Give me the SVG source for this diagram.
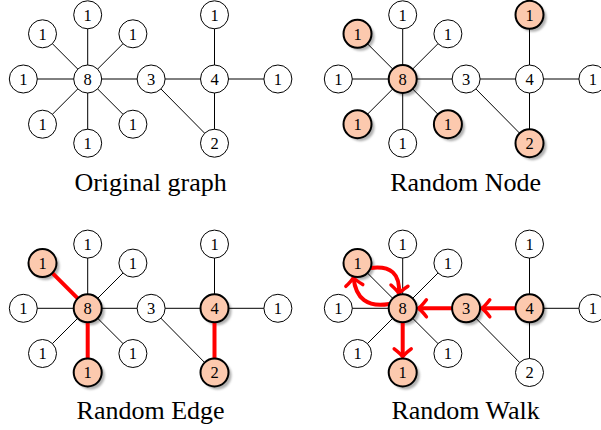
<svg xmlns="http://www.w3.org/2000/svg" width="601" height="430" viewBox="0 0 601 430">
<style>
.e{stroke:#000;stroke-width:1;fill:none}
.re{stroke:#f00;stroke-width:4;fill:none}
.ra{stroke:#f00;stroke-width:4;fill:none;marker-end:url(#ah)}
.n circle{fill:#fff;stroke:#000;stroke-width:1}
.h circle{fill:#fcc9ae;stroke:#000;stroke-width:2}
.sh{fill:#b0b0b0;filter:url(#blur)}
text{font-family:"Liberation Serif","Times New Roman",serif;fill:#000;text-anchor:middle}
.n text,.h text{font-size:16.5px}
.lab{font-size:26px}
</style>
<defs>
<filter id="blur" x="-50%" y="-50%" width="200%" height="200%"><feGaussianBlur stdDeviation="1.3"/></filter>
<marker id="ah" viewBox="-12 -12 24 24" markerWidth="24" markerHeight="24" markerUnits="userSpaceOnUse" orient="auto" refX="0" refY="0" overflow="visible">
<path d="M-8,-8.5 Q-3,-2 0,0 Q-3,2 -8,8.5" fill="none" stroke="#f00" stroke-width="3.5" stroke-linecap="round" stroke-linejoin="round"/>
</marker>
</defs>

<!-- Panel 1: Original graph -->
<g id="panel1">
<g id="p1-connectors">
<line class="e" x1="87.7" y1="79" x2="87.7" y2="14.8"/>
<line class="e" x1="87.7" y1="79" x2="42.5" y2="33.8"/>
<line class="e" x1="87.7" y1="79" x2="132.9" y2="33.8"/>
<line class="e" x1="87.7" y1="79" x2="23.3" y2="79"/>
<line class="e" x1="87.7" y1="79" x2="42.5" y2="124.2"/>
<line class="e" x1="87.7" y1="79" x2="132.9" y2="124.2"/>
<line class="e" x1="87.7" y1="79" x2="87.7" y2="143.2"/>
<line class="e" x1="87.7" y1="79" x2="151.1" y2="79"/>
<line class="e" x1="151.1" y1="79" x2="214.5" y2="79"/>
<line class="e" x1="151.1" y1="79" x2="214.5" y2="143.2"/>
<line class="e" x1="214.5" y1="79" x2="214.5" y2="14.8"/>
<line class="e" x1="214.5" y1="79" x2="277.9" y2="79"/>
<line class="e" x1="214.5" y1="79" x2="214.5" y2="143.2"/>
</g>
<g id="p1-n8" class="n"><circle cx="87.7" cy="79" r="14"/><text x="87.7" y="84.7">8</text></g>
<g id="p1-t" class="n"><circle cx="87.7" cy="14.8" r="14"/><text x="87.7" y="20.5">1</text></g>
<g id="p1-ul" class="n"><circle cx="42.5" cy="33.8" r="14"/><text x="42.5" y="39.5">1</text></g>
<g id="p1-ur" class="n"><circle cx="132.9" cy="33.8" r="14"/><text x="132.9" y="39.5">1</text></g>
<g id="p1-l" class="n"><circle cx="23.3" cy="79" r="14"/><text x="23.3" y="84.7">1</text></g>
<g id="p1-ll" class="n"><circle cx="42.5" cy="124.2" r="14"/><text x="42.5" y="129.9">1</text></g>
<g id="p1-lr" class="n"><circle cx="132.9" cy="124.2" r="14"/><text x="132.9" y="129.9">1</text></g>
<g id="p1-b" class="n"><circle cx="87.7" cy="143.2" r="14"/><text x="87.7" y="148.9">1</text></g>
<g id="p1-n3" class="n"><circle cx="151.1" cy="79" r="14"/><text x="151.1" y="84.7">3</text></g>
<g id="p1-n4" class="n"><circle cx="214.5" cy="79" r="14"/><text x="214.5" y="84.7">4</text></g>
<g id="p1-r" class="n"><circle cx="277.9" cy="79" r="14"/><text x="277.9" y="84.7">1</text></g>
<g id="p1-t4" class="n"><circle cx="214.5" cy="14.8" r="14"/><text x="214.5" y="20.5">1</text></g>
<g id="p1-n2" class="n"><circle cx="214.5" cy="143.2" r="14"/><text x="214.5" y="148.9">2</text></g>
<text class="lab" x="150.6" y="191">Original graph</text>
</g>

<!-- Panel 2: Random Node -->
<g id="panel2" transform="translate(315,0)">
<g id="p2-shadows">
<circle class="sh" cx="90.7" cy="82" r="14"/>
<circle class="sh" cx="45.5" cy="36.8" r="14"/>
<circle class="sh" cx="45.5" cy="127.2" r="14"/>
<circle class="sh" cx="135.9" cy="127.2" r="14"/>
<circle class="sh" cx="217.5" cy="17.8" r="14"/>
<circle class="sh" cx="217.5" cy="146.2" r="14"/>
</g>
<g id="p2-connectors">
<line class="e" x1="87.7" y1="79" x2="87.7" y2="14.8"/>
<line class="e" x1="87.7" y1="79" x2="42.5" y2="33.8"/>
<line class="e" x1="87.7" y1="79" x2="132.9" y2="33.8"/>
<line class="e" x1="87.7" y1="79" x2="23.3" y2="79"/>
<line class="e" x1="87.7" y1="79" x2="42.5" y2="124.2"/>
<line class="e" x1="87.7" y1="79" x2="132.9" y2="124.2"/>
<line class="e" x1="87.7" y1="79" x2="87.7" y2="143.2"/>
<line class="e" x1="87.7" y1="79" x2="151.1" y2="79"/>
<line class="e" x1="151.1" y1="79" x2="214.5" y2="79"/>
<line class="e" x1="151.1" y1="79" x2="214.5" y2="143.2"/>
<line class="e" x1="214.5" y1="79" x2="214.5" y2="14.8"/>
<line class="e" x1="214.5" y1="79" x2="277.9" y2="79"/>
<line class="e" x1="214.5" y1="79" x2="214.5" y2="143.2"/>
</g>
<g id="p2-n8" class="h"><circle cx="87.7" cy="79" r="14"/><text x="87.7" y="84.7">8</text></g>
<g id="p2-t" class="n"><circle cx="87.7" cy="14.8" r="14"/><text x="87.7" y="20.5">1</text></g>
<g id="p2-ul" class="h"><circle cx="42.5" cy="33.8" r="14"/><text x="42.5" y="39.5">1</text></g>
<g id="p2-ur" class="n"><circle cx="132.9" cy="33.8" r="14"/><text x="132.9" y="39.5">1</text></g>
<g id="p2-l" class="n"><circle cx="23.3" cy="79" r="14"/><text x="23.3" y="84.7">1</text></g>
<g id="p2-ll" class="h"><circle cx="42.5" cy="124.2" r="14"/><text x="42.5" y="129.9">1</text></g>
<g id="p2-lr" class="h"><circle cx="132.9" cy="124.2" r="14"/><text x="132.9" y="129.9">1</text></g>
<g id="p2-b" class="n"><circle cx="87.7" cy="143.2" r="14"/><text x="87.7" y="148.9">1</text></g>
<g id="p2-n3" class="n"><circle cx="151.1" cy="79" r="14"/><text x="151.1" y="84.7">3</text></g>
<g id="p2-n4" class="n"><circle cx="214.5" cy="79" r="14"/><text x="214.5" y="84.7">4</text></g>
<g id="p2-r" class="n"><circle cx="277.9" cy="79" r="14"/><text x="277.9" y="84.7">1</text></g>
<g id="p2-t4" class="h"><circle cx="214.5" cy="14.8" r="14"/><text x="214.5" y="20.5">1</text></g>
<g id="p2-n2" class="h"><circle cx="214.5" cy="143.2" r="14"/><text x="214.5" y="148.9">2</text></g>
<text class="lab" x="150.6" y="191">Random Node</text>
</g>

<!-- Panel 3: Random Edge -->
<g id="panel3" transform="translate(0,229.3)">
<g id="p3-shadows">
<circle class="sh" cx="90.7" cy="82" r="14"/>
<circle class="sh" cx="45.5" cy="36.8" r="14"/>
<circle class="sh" cx="90.7" cy="146.2" r="14"/>
<circle class="sh" cx="217.5" cy="82" r="14"/>
<circle class="sh" cx="217.5" cy="146.2" r="14"/>
</g>
<g id="p3-connectors">
<line class="e" x1="87.7" y1="79" x2="87.7" y2="14.8"/>
<line class="e" x1="87.7" y1="79" x2="132.9" y2="33.8"/>
<line class="e" x1="87.7" y1="79" x2="23.3" y2="79"/>
<line class="e" x1="87.7" y1="79" x2="42.5" y2="124.2"/>
<line class="e" x1="87.7" y1="79" x2="132.9" y2="124.2"/>
<line class="e" x1="87.7" y1="79" x2="151.1" y2="79"/>
<line class="e" x1="151.1" y1="79" x2="214.5" y2="79"/>
<line class="e" x1="151.1" y1="79" x2="214.5" y2="143.2"/>
<line class="e" x1="214.5" y1="79" x2="214.5" y2="14.8"/>
<line class="e" x1="214.5" y1="79" x2="277.9" y2="79"/>
<line class="re" x1="87.7" y1="79" x2="42.5" y2="33.8"/>
<line class="re" x1="87.7" y1="79" x2="87.7" y2="143.2"/>
<line class="re" x1="214.5" y1="79" x2="214.5" y2="143.2"/>
</g>
<g id="p3-n8" class="h"><circle cx="87.7" cy="79" r="14"/><text x="87.7" y="84.7">8</text></g>
<g id="p3-t" class="n"><circle cx="87.7" cy="14.8" r="14"/><text x="87.7" y="20.5">1</text></g>
<g id="p3-ul" class="h"><circle cx="42.5" cy="33.8" r="14"/><text x="42.5" y="39.5">1</text></g>
<g id="p3-ur" class="n"><circle cx="132.9" cy="33.8" r="14"/><text x="132.9" y="39.5">1</text></g>
<g id="p3-l" class="n"><circle cx="23.3" cy="79" r="14"/><text x="23.3" y="84.7">1</text></g>
<g id="p3-ll" class="n"><circle cx="42.5" cy="124.2" r="14"/><text x="42.5" y="129.9">1</text></g>
<g id="p3-lr" class="n"><circle cx="132.9" cy="124.2" r="14"/><text x="132.9" y="129.9">1</text></g>
<g id="p3-b" class="h"><circle cx="87.7" cy="143.2" r="14"/><text x="87.7" y="148.9">1</text></g>
<g id="p3-n3" class="n"><circle cx="151.1" cy="79" r="14"/><text x="151.1" y="84.7">3</text></g>
<g id="p3-n4" class="h"><circle cx="214.5" cy="79" r="14"/><text x="214.5" y="84.7">4</text></g>
<g id="p3-r" class="n"><circle cx="277.9" cy="79" r="14"/><text x="277.9" y="84.7">1</text></g>
<g id="p3-t4" class="n"><circle cx="214.5" cy="14.8" r="14"/><text x="214.5" y="20.5">1</text></g>
<g id="p3-n2" class="h"><circle cx="214.5" cy="143.2" r="14"/><text x="214.5" y="148.9">2</text></g>
<text class="lab" x="150.6" y="190">Random Edge</text>
</g>

<!-- Panel 4: Random Walk -->
<g id="panel4" transform="translate(315,229.3)">
<g id="p4-shadows">
<circle class="sh" cx="90.7" cy="82" r="14"/>
<circle class="sh" cx="45.5" cy="36.8" r="14"/>
<circle class="sh" cx="90.7" cy="146.2" r="14"/>
<circle class="sh" cx="154.1" cy="82" r="14"/>
<circle class="sh" cx="217.5" cy="82" r="14"/>
</g>
<g id="p4-connectors">
<line class="e" x1="87.7" y1="79" x2="87.7" y2="14.8"/>
<line class="e" x1="87.7" y1="79" x2="42.5" y2="33.8"/>
<line class="e" x1="87.7" y1="79" x2="132.9" y2="33.8"/>
<line class="e" x1="87.7" y1="79" x2="23.3" y2="79"/>
<line class="e" x1="87.7" y1="79" x2="42.5" y2="124.2"/>
<line class="e" x1="87.7" y1="79" x2="132.9" y2="124.2"/>
<line class="e" x1="151.1" y1="79" x2="214.5" y2="143.2"/>
<line class="e" x1="214.5" y1="79" x2="214.5" y2="14.8"/>
<line class="e" x1="214.5" y1="79" x2="277.9" y2="79"/>
<line class="e" x1="214.5" y1="79" x2="214.5" y2="143.2"/>
<line class="ra" x1="200" y1="79" x2="166.8" y2="79"/>
<line class="ra" x1="137" y1="79" x2="103.4" y2="79"/>
<line class="ra" x1="87.7" y1="93.5" x2="87.7" y2="127.5"/>
<path class="ra" d="M55.7,38.6 Q86,34.7 83.9,64.3"/>
<path class="ra" d="M74.3,74.7 Q41.8,80.4 38.5,48.2"/>
</g>
<g id="p4-n8" class="h"><circle cx="87.7" cy="79" r="14"/><text x="87.7" y="84.7">8</text></g>
<g id="p4-t" class="n"><circle cx="87.7" cy="14.8" r="14"/><text x="87.7" y="20.5">1</text></g>
<g id="p4-ul" class="h"><circle cx="42.5" cy="33.8" r="14"/><text x="42.5" y="39.5">1</text></g>
<g id="p4-ur" class="n"><circle cx="132.9" cy="33.8" r="14"/><text x="132.9" y="39.5">1</text></g>
<g id="p4-l" class="n"><circle cx="23.3" cy="79" r="14"/><text x="23.3" y="84.7">1</text></g>
<g id="p4-ll" class="n"><circle cx="42.5" cy="124.2" r="14"/><text x="42.5" y="129.9">1</text></g>
<g id="p4-lr" class="n"><circle cx="132.9" cy="124.2" r="14"/><text x="132.9" y="129.9">1</text></g>
<g id="p4-b" class="h"><circle cx="87.7" cy="143.2" r="14"/><text x="87.7" y="148.9">1</text></g>
<g id="p4-n3" class="h"><circle cx="151.1" cy="79" r="14"/><text x="151.1" y="84.7">3</text></g>
<g id="p4-n4" class="h"><circle cx="214.5" cy="79" r="14"/><text x="214.5" y="84.7">4</text></g>
<g id="p4-r" class="n"><circle cx="277.9" cy="79" r="14"/><text x="277.9" y="84.7">1</text></g>
<g id="p4-t4" class="n"><circle cx="214.5" cy="14.8" r="14"/><text x="214.5" y="20.5">1</text></g>
<g id="p4-n2" class="n"><circle cx="214.5" cy="143.2" r="14"/><text x="214.5" y="148.9">2</text></g>
<text class="lab" x="150.6" y="190">Random Walk</text>
</g>
</svg>
